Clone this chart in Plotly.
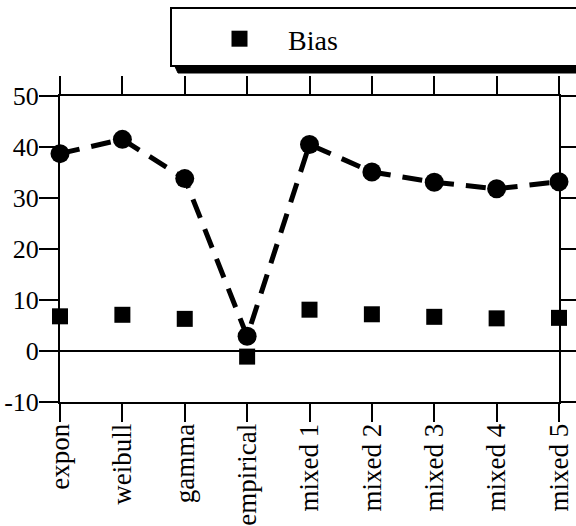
import plotly.graph_objects as go

categories = ["expon", "weibull", "gamma", "empirical", "mixed 1",
              "mixed 2", "mixed 3", "mixed 4", "mixed 5"]
series_circle = [38.7, 41.5, 33.8, 2.9, 40.5, 35.1, 33.1, 31.8, 33.2]
bias = [6.8, 7.1, 6.3, -1.1, 8.1, 7.2, 6.7, 6.4, 6.5]
y_ticks = [-10, 0, 10, 20, 30, 40, 50]
y_tick_labels = ["-10", "0", "10", "20", "30", "40", "50"]

W, H = 576, 526
L, R, T, B = 60, 17, 96, 124
pw, ph = W - L - R, H - T - B

def px(x):
    return (x - L) / pw

def py(y):
    return (H - B - y) / ph

FONT = "Liberation Serif"

fig = go.Figure()
fig.add_trace(go.Scatter(
    x=list(range(len(categories))), y=series_circle, mode="lines+markers",
    line=dict(color="black", width=5, dash="20px,12px"),
    marker=dict(symbol="circle", size=19, color="black"),
    showlegend=False, cliponaxis=False, name="Estimate"))
fig.add_trace(go.Scatter(
    x=list(range(len(categories))), y=bias, mode="markers",
    marker=dict(symbol="square", size=16, color="black"),
    name="Bias", cliponaxis=False))

# legend box with shadow
shadow = (f"M{px(171)},{py(58)} L{px(178)},{py(73)} L{px(600)},{py(73)} "
          f"L{px(600)},{py(58)} Z")
fig.add_shape(type="path", path=shadow, xref="paper", yref="paper",
              fillcolor="black", line=dict(color="black", width=1))
fig.add_shape(type="rect", xref="paper", yref="paper",
              x0=px(171), x1=px(600), y0=py(66), y1=py(8),
              fillcolor="white", line=dict(color="black", width=2))

fig.update_layout(
    width=W, height=H,
    margin=dict(l=L, r=R, t=T, b=B, autoexpand=False),
    paper_bgcolor="white", plot_bgcolor="white",
    font=dict(family=FONT, size=26, color="black"),
    showlegend=True,
    legend=dict(x=px(191), y=py(14), xanchor="left", yanchor="top",
                bgcolor="rgba(0,0,0,0)", borderwidth=0,
                font=dict(family=FONT, size=28, color="black"),
                itemwidth=87),
    xaxis=dict(
        range=[0, 8], tickmode="array", automargin=False,
        tickvals=list(range(len(categories))), ticktext=categories,
        tickangle=-90, ticks="outside", ticklen=18, tickwidth=2,
        tickcolor="black", showline=True, linecolor="black", linewidth=2,
        mirror="ticks", showgrid=False, zeroline=False,
        ticklabelstandoff=-9,
        tickfont=dict(family=FONT, size=27, color="black")),
    yaxis=dict(
        range=[-10, 50], tickmode="array", tickvals=y_ticks,
        ticktext=y_tick_labels, automargin=False,
        ticks="outside", ticklen=19, tickwidth=2, tickcolor="black",
        showline=True, linecolor="black", linewidth=2, mirror="ticks",
        showgrid=False, zeroline=True, zerolinecolor="black",
        zerolinewidth=2, ticklabelstandoff=-5,
        tickfont=dict(family=FONT, size=26, color="black")),
)
fig.write_html("out.html")
